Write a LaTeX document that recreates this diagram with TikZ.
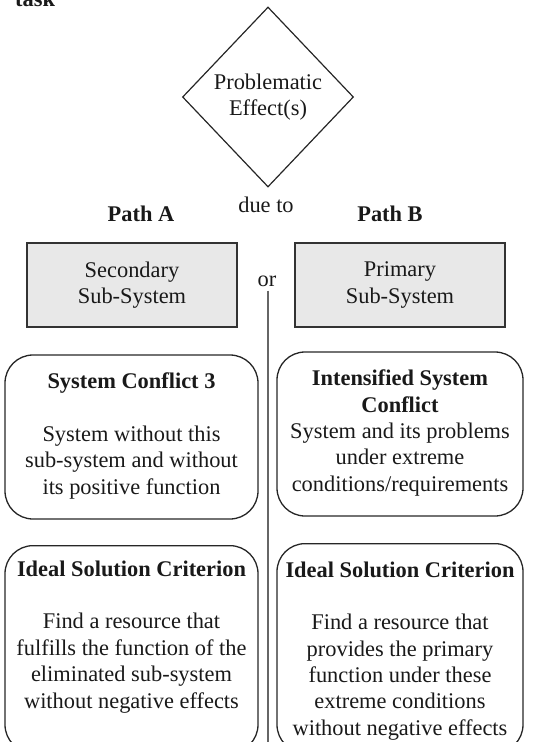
\documentclass[tikz,border=0pt]{standalone}
\usepackage{fontspec}
\setmainfont{Liberation Serif}
\usetikzlibrary{shapes.geometric,shadows}
\begin{document}
\begin{tikzpicture}[x=1pt,y=-1pt,
  every node/.style={font=\fontsize{22.4}{26.4}\selectfont, text=black!90},
  lbl/.style={align=center, inner sep=0pt},
  frame/.style={draw=black!85, line width=1.3pt, rounded corners=28pt, inner sep=0pt},
  subbox/.style={draw=black!80, fill=black!9, line width=1.2pt,
    minimum width=210pt, minimum height=84pt, inner sep=0pt, align=center,
    drop shadow={shadow xshift=0.8pt, shadow yshift=-1.4pt, opacity=1, fill=black!65}},
  decision/.style={diamond, draw=black!85, line width=1.2pt, align=center,
    minimum width=171pt, minimum height=180pt, inner sep=0pt},
  divider/.style={draw=black!60, line width=1.3pt}
]
\useasboundingbox (0,0) rectangle (551,742);
\clip (0,0) rectangle (551,742);

% heading fragment at the top edge
\node[anchor=base west, inner sep=0pt, font=\fontsize{22.4}{26.4}\selectfont\bfseries] (task) at (15,6) {task};

% decision diamond
\node[decision] (effect) at (268,97) {Problematic\\Effect(s)};
\node[lbl] (dueto) at (266,205) {due to};

% path headings
\node[lbl, font=\fontsize{22.4}{26.4}\selectfont\bfseries] (pathA) at (141,214) {Path A};
\node[lbl, font=\fontsize{22.4}{26.4}\selectfont\bfseries] (pathB) at (390,214) {Path B};

% sub-system boxes
\node[subbox] (secondary) at (132,285) {Secondary\\Sub-System};
\node[subbox] (primary) at (400,285) {Primary\\Sub-System};
\node[inner sep=4pt] (or) at (267,281) {or};

% vertical divider between the two paths
\coordinate (bottomEnd) at (268,742);
\draw[divider] (or.south -| bottomEnd) -- (bottomEnd);

% conflict boxes
\node[frame, minimum width=253pt, minimum height=164pt] (conflictA) at (131.5,437) {};
\node[lbl] (conflictAtext) at (131.5,436) {\textbf{System Conflict 3}\\[26pt]System without this\\sub-system and without\\its positive function};

\node[frame, minimum width=246pt, minimum height=164pt] (conflictB) at (400,434) {};
\node[lbl] (conflictBtext) at (400,433) {\textbf{Intensified System}\\\textbf{Conflict}\\System and its problems\\under extreme\\conditions/requirements};

% ideal solution boxes (running past the lower edge)
\node[frame, minimum width=253pt, minimum height=207pt, anchor=north] (idealA) at (131.5,545) {};
\node[lbl] (idealAtext) at (131.5,637) {\textbf{Ideal Solution Criterion}\\[26pt]Find a resource that\\fulfills the function of the\\eliminated sub-system\\without negative effects};

\node[frame, minimum width=246pt, minimum height=209pt, anchor=north] (idealB) at (400,543) {};
\node[lbl] (idealBtext) at (400,651) {\textbf{Ideal Solution Criterion}\\[26pt]Find a resource that\\provides the primary\\function under these\\extreme conditions\\without negative effects};
\end{tikzpicture}
\end{document}
